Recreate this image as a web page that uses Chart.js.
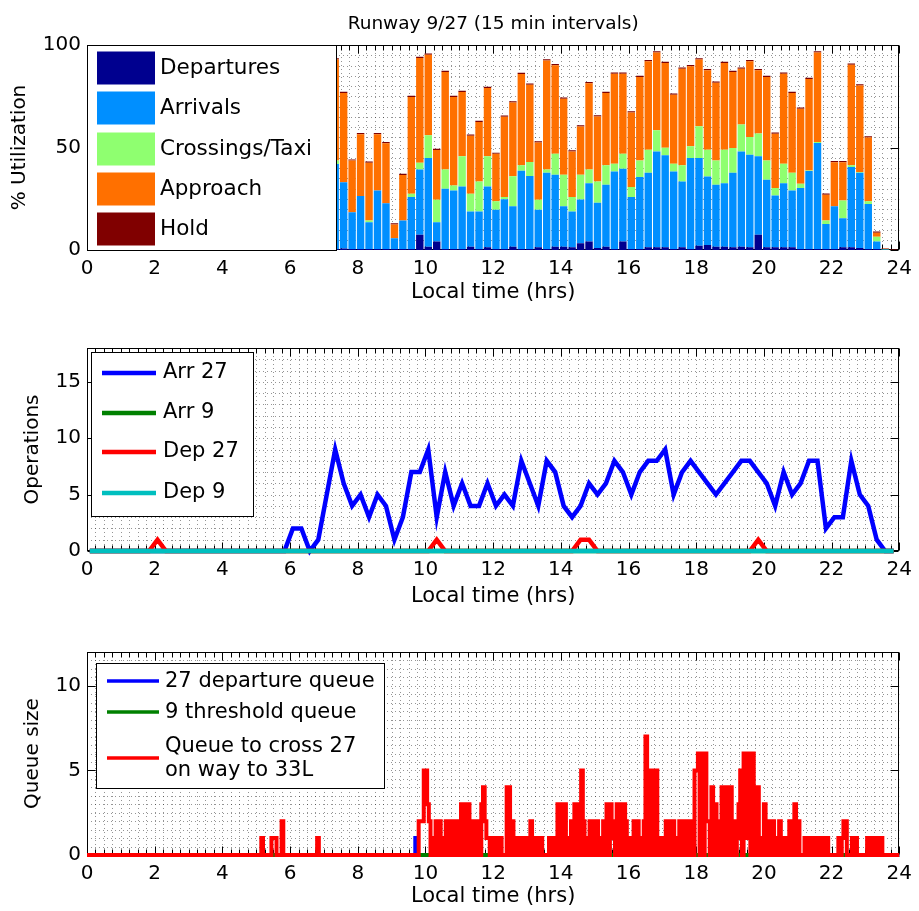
<!DOCTYPE html>
<html>
<head>
<meta charset="utf-8">
<script src="https://cdn.jsdelivr.net/npm/chart.js@4/dist/chart.umd.min.js"></script>
<style>
  html, body { margin: 0; padding: 0; background: #fff; }
  #wrap { position: relative; width: 919px; height: 911px; overflow: hidden; background: #fff; }
  canvas { position: absolute; left: 0; }
</style>
</head>
<body>
<div id="wrap">
  <canvas id="c1" width="919" height="305" style="top:0px"></canvas>
  <canvas id="c2" width="919" height="305" style="top:305px"></canvas>
  <canvas id="c3" width="919" height="301" style="top:610px"></canvas>
</div>
<script>
// ======================= DATA =======================
// 15-min slots; slot k is plotted at k*0.25 h + 5 min
const slotTime = k => k * 0.25 + 1 / 12;

// ---- Top panel: % utilization, slots 29 .. 95
const firstUtilSlot = 29;
const departures = [
  0.5, 0.7, 0.5, 0.5, 0.5, 0.5, 0.5, 0.5, 0.5, 0.5,
  7.5, 1.6, 4.1, 0.5, 0.5, 0.5, 1.6, 0.5, 1.3, 0.5,
  0.5, 1.6, 0.5, 0.5, 1.3, 0.5, 1.6, 1.6, 1.3, 3.3,
  4.1, 1.0, 1.6, 0.5, 4.1, 0.5, 0.5, 1.3, 1.3, 1.3,
  0.5, 1.3, 0.5, 2.1, 2.4, 1.6, 1.6, 1.3, 1.6, 1.3,
  7.5, 1.3, 1.3, 1.3, 1.3, 0.5, 0.5, 0.5, 0.5, 0.5,
  1.3, 1.3, 1.0, 0.5, 0.5, 0, 0
];
const arrivals = [
  41.5, 32.4, 17.9, 25.9, 13.0, 28.5, 22.3, 5.2, 13.9, 25.3,
  31.8, 43.3, 9.4, 29.4, 28.5, 30.5, 17.2, 18.3, 29.7, 19.1,
  24.3, 19.8, 38.2, 35.6, 18.3, 37.2, 35.1, 19.8, 17.5, 21.3,
  28.5, 22.0, 30.2, 37.8, 35.5, 25.3, 35.1, 36.4, 46.8, 44.9,
  37.8, 32.1, 44.4, 42.8, 33.5, 30.2, 31.0, 36.4, 46.5, 45.2,
  38.2, 33.0, 25.3, 31.3, 27.7, 29.7, 38.0, 51.7, 12.2, 20.9,
  14.2, 39.2, 36.7, 22.0, 3.7, 0.3, 0
];
const crossings = [
  1.7, 0, 0, 0, 0.9, 0, 0, 0, 0, 1.6,
  3.3, 11.1, 11.0, 9.4, 2.5, 14.7, 8.6, 14.6, 14.7, 4.2,
  1.0, 14.6, 2.6, 6.8, 4.9, 1.6, 10.3, 15.3, 7.0, 12.1,
  6.7, 10.4, 9.5, 3.8, 7.4, 4.9, 8.1, 11.2, 10.3, 3.7,
  3.8, 7.9, 5.7, 15.5, 13.0, 11.9, 16.3, 12.1, 13.1, 8.6,
  11.1, 9.4, 3.6, 9.5, 8.7, 2.1, 0.3, 0.5, 1.7, 0,
  8.6, 0.8, 0.3, 1.3, 2.3, 0.2, 0
];
const approach = [
  49.2, 43.5, 25.2, 30.1, 28.2, 27.5, 29.3, 6.7, 22.2, 47.2,
  51.1, 39.3, 24.3, 47.5, 43.1, 31.4, 28.3, 29.0, 33.3, 23.1,
  39.2, 36.0, 44.6, 37.7, 27.9, 53.2, 43.1, 37.1, 22.2, 23.5,
  42.1, 31.7, 35.3, 43.9, 39.0, 36.4, 40.7, 43.2, 38.0, 41.3,
  33.6, 47.1, 39.0, 32.5, 38.8, 37.9, 42.3, 37.0, 27.2, 37.0,
  30.9, 40.7, 26.5, 43.9, 38.9, 36.6, 44.6, 43.7, 12.6, 21.4,
  18.7, 49.1, 42.2, 31.1, 1.9, 0.1, 0
];
const hold = [
  0.6, 0.6, 0.6, 0.6, 0.6, 0.6, 0.6, 0.6, 0.6, 0.6,
  0.6, 0.6, 0.6, 0.6, 0.6, 0.6, 0.6, 0.6, 0.6, 0.6,
  0.6, 0.6, 0.6, 0.6, 0.6, 0.6, 0.6, 0.6, 0.6, 0.6,
  0.6, 0.6, 0.6, 0.6, 0.6, 0.6, 0.6, 0.6, 0.6, 0.6,
  0.6, 0.6, 0.6, 0.6, 0.6, 0.6, 0.6, 0.6, 0.6, 0.6,
  0.6, 0.6, 0.6, 0.6, 0.6, 0.6, 0.6, 0.6, 0.6, 0.6,
  0.6, 0.6, 0.6, 0.6, 0.6, 0.3, 0.3
];

// ---- Middle panel: operations per 15-min slot, slots 0 .. 95 (rows of 3 h)
const arr27 = [
  0, 0, 0, 0, 0, 0, 0, 0, 0, 0, 0, 0,
  0, 0, 0, 0, 0, 0, 0, 0, 0, 0, 0, 0,
  2, 2, 0, 1, 5, 9, 6, 4, 5, 3, 5, 4,
  1, 3, 7, 7, 9, 3, 7, 4, 6, 4, 4, 6,
  4, 5, 4, 8, 6, 4, 8, 7, 4, 3, 4, 6,
  5, 6, 8, 7, 5, 7, 8, 8, 9, 5, 7, 8,
  7, 6, 5, 6, 7, 8, 8, 7, 6, 4, 7, 5,
  6, 8, 8, 2, 3, 3, 8, 5, 4, 1, 0, 0
];
const arr9 = [
  0, 0, 0, 0, 0, 0, 0, 0, 0, 0, 0, 0,
  0, 0, 0, 0, 0, 0, 0, 0, 0, 0, 0, 0,
  0, 0, 0, 0, 0, 0, 0, 0, 0, 0, 0, 0,
  0, 0, 0, 0, 0, 0, 0, 0, 0, 0, 0, 0,
  0, 0, 0, 0, 0, 0, 0, 0, 0, 0, 0, 0,
  0, 0, 0, 0, 0, 0, 0, 0, 0, 0, 0, 0,
  0, 0, 0, 0, 0, 0, 0, 0, 0, 0, 0, 0,
  0, 0, 0, 0, 0, 0, 0, 0, 0, 0, 0, 0
];
const dep27 = [
  0, 0, 0, 0, 0, 0, 0, 0, 1, 0, 0, 0,
  0, 0, 0, 0, 0, 0, 0, 0, 0, 0, 0, 0,
  0, 0, 0, 0, 0, 0, 0, 0, 0, 0, 0, 0,
  0, 0, 0, 0, 0, 1, 0, 0, 0, 0, 0, 0,
  0, 0, 0, 0, 0, 0, 0, 0, 0, 0, 1, 1,
  0, 0, 0, 0, 0, 0, 0, 0, 0, 0, 0, 0,
  0, 0, 0, 0, 0, 0, 0, 1, 0, 0, 0, 0,
  0, 0, 0, 0, 0, 0, 0, 0, 0, 0, 0, 0
];
const dep9 = [
  0, 0, 0, 0, 0, 0, 0, 0, 0, 0, 0, 0,
  0, 0, 0, 0, 0, 0, 0, 0, 0, 0, 0, 0,
  0, 0, 0, 0, 0, 0, 0, 0, 0, 0, 0, 0,
  0, 0, 0, 0, 0, 0, 0, 0, 0, 0, 0, 0,
  0, 0, 0, 0, 0, 0, 0, 0, 0, 0, 0, 0,
  0, 0, 0, 0, 0, 0, 0, 0, 0, 0, 0, 0,
  0, 0, 0, 0, 0, 0, 0, 0, 0, 0, 0, 0,
  0, 0, 0, 0, 0, 0, 0, 0, 0, 0, 0, 0
];

// ---- Bottom panel: queue sizes
// 27 departure queue and 9 threshold queue as [hour, size] change events
const depQueue27 = [[0, 0], [9.70, 1], [9.75, 0], [24, 0]];
const thresholdQueue9 = [[0, 0], [24, 0]];
// crossing queue in 3-minute bins, one row per hour (0h .. 23h)
const crossBinHours = 0.05;
const crossQueue27 = [
  0,0,0,0,0,0,0,0,0,0,0,0,0,0,0,0,0,0,0,0,
  0,0,0,0,0,0,0,0,0,0,0,0,0,0,0,0,0,0,0,0,
  0,0,0,0,0,0,0,0,0,0,0,0,0,0,0,0,0,0,0,0,
  0,0,0,0,0,0,0,0,0,0,0,0,0,0,0,0,0,0,0,0,
  0,0,0,0,0,0,0,0,0,0,0,0,0,0,0,0,0,0,0,0,
  0,0,0,1,0,0,0,0,0,1,1,1,0,0,0,2,0,0,0,0,
  0,0,0,0,0,0,0,0,0,0,0,0,0,0,0,0,1,0,0,0,
  0,0,0,0,0,0,0,0,0,0,0,0,0,0,0,0,0,0,0,0,
  0,0,0,0,0,0,0,0,0,0,0,0,0,0,0,0,0,0,0,0,
  0,0,0,0,0,0,0,0,0,0,0,0,0,0,0,0,2,2,2,5,
  5,3,2,0,1,0,2,0,2,0,1,0,2,0,2,0,2,0,2,0,
  1,3,0,3,0,3,0,2,0,2,0,2,0,3,4,2,1,1,0,1,
  1,0,1,0,1,0,0,0,4,4,0,2,0,0,1,0,1,0,1,0,
  1,0,2,0,1,0,1,0,1,0,0,0,0,1,0,1,0,1,3,0,
  3,0,3,1,0,1,2,0,3,0,3,0,5,2,0,1,0,2,0,2,
  0,2,0,1,0,2,0,3,0,3,1,2,0,3,0,3,0,3,2,0,
  1,0,1,2,0,2,0,1,0,2,7,0,5,0,5,0,5,0,1,0,
  1,0,2,0,2,0,2,0,1,0,2,0,2,0,2,1,0,2,0,5,
  5,6,0,6,0,6,2,2,0,4,0,3,0,2,0,4,0,4,3,0,
  4,0,2,0,1,3,5,0,6,6,1,6,0,6,4,0,4,0,1,0,
  3,0,1,2,0,2,0,1,0,2,0,1,0,1,0,2,0,1,3,0,
  2,0,0,0,1,0,1,0,0,1,0,1,0,1,0,1,0,1,0,0,
  0,0,0,0,1,0,1,2,2,0,0,0,1,0,1,0,0,0,0,0,
  0,1,0,1,0,1,0,1,0,1,0,0,0,0,0,0,0,0,0,0
];

// ======================= STYLE / HELPERS =======================
const FONT = '"DejaVu Sans", sans-serif';
Chart.defaults.font.family = FONT;
Chart.defaults.font.size = 20;
Chart.defaults.color = '#000';

const ptsFromSlots = (vals, first) => vals.map((v, i) => ({ x: slotTime(first + i), y: v }));
const ptsFromEvents = ev => ev.map(([t, v]) => ({ x: t, y: v }));
const ptsFromBins = vals => {
  const p = vals.map((v, i) => ({ x: i * crossBinHours, y: v }));
  p.push({ x: vals.length * crossBinHours, y: vals[vals.length - 1] });
  return p;
};

// MATLAB-like axes: dotted minor grid, inward ticks and box, all beneath the data
const matlabAxes = {
  id: 'matlabAxes',
  beforeDatasetsDraw(chart, _a, o) {
    const { ctx, chartArea: a } = chart;
    const x = chart.scales.x, y = chart.scales.y;
    ctx.save();
    ctx.strokeStyle = o.gridColor;
    ctx.lineWidth = 1;
    ctx.setLineDash(o.gridDash);
    const nx = Math.round((x.max - x.min) / o.xMinor);
    for (let i = 1; i < nx; i++) {
      const px = Math.round(x.getPixelForValue(x.min + i * o.xMinor)) + 0.5;
      ctx.beginPath(); ctx.moveTo(px, a.top); ctx.lineTo(px, a.bottom); ctx.stroke();
    }
    const ny = Math.round((y.max - y.min) / o.yMinor);
    for (let i = 1; i < ny; i++) {
      const py = Math.round(y.getPixelForValue(y.min + i * o.yMinor)) + 0.5;
      ctx.beginPath(); ctx.moveTo(a.left, py); ctx.lineTo(a.right, py); ctx.stroke();
    }
    // ticks and box
    ctx.setLineDash([]);
    ctx.strokeStyle = '#000';
    const L = Math.round(a.left) + 0.5, R = Math.round(a.right) - 0.5;
    const T = Math.round(a.top) + 0.5, B = Math.round(a.bottom) - 0.5;
    for (let i = 0; i <= nx; i++) {
      const v = x.min + i * o.xMinor;
      const len = Math.abs(v / o.xMajor - Math.round(v / o.xMajor)) < 1e-6 ? o.majorLen : o.minorLen;
      const px = Math.round(x.getPixelForValue(v)) + 0.5;
      ctx.beginPath();
      ctx.moveTo(px, B); ctx.lineTo(px, B - len);
      ctx.moveTo(px, T); ctx.lineTo(px, T + len);
      ctx.stroke();
    }
    y.ticks.forEach(t => {
      const py = Math.round(y.getPixelForValue(t.value)) + 0.5;
      ctx.beginPath();
      ctx.moveTo(L, py); ctx.lineTo(L + o.majorLen, py);
      ctx.moveTo(R, py); ctx.lineTo(R - o.majorLen, py);
      ctx.stroke();
    });
    ctx.strokeRect(L, T, R - L, B - T);
    ctx.restore();
  },
  afterDraw(chart, _a, o) {
    const g = o.legend;
    if (!g) return;
    const ctx = chart.ctx;
    ctx.save();
    ctx.fillStyle = '#fff';
    ctx.fillRect(g.x, g.y, g.w, g.h);
    ctx.strokeStyle = '#000';
    ctx.lineWidth = 1;
    ctx.setLineDash([]);
    ctx.strokeRect(g.x + 0.5, g.y + 0.5, g.w, g.h);
    ctx.font = g.fontSize + 'px ' + FONT;
    ctx.textBaseline = 'middle';
    ctx.textAlign = 'left';
    chart.data.datasets.forEach((ds, i) => {
      const yc = g.rows[i];
      if (g.kind === 'patch') {
        ctx.fillStyle = ds.backgroundColor;
        ctx.fillRect(g.sx0, yc - g.ph / 2, g.sx1 - g.sx0, g.ph);
      } else {
        ctx.strokeStyle = ds.borderColor;
        ctx.lineWidth = g.lw;
        ctx.beginPath(); ctx.moveTo(g.sx0, yc); ctx.lineTo(g.sx1, yc); ctx.stroke();
      }
      ctx.fillStyle = '#000';
      const lines = ds.label.split('\n');
      lines.forEach((ln, j) => {
        ctx.fillText(ln, g.tx, yc + (j - (lines.length - 1) / 2) * g.lineGap + g.textDy);
      });
    });
    ctx.restore();
  }
};

function xScale(h, titlePadBottom) {
  return {
    type: 'linear', min: 0, max: 24, offset: false,
    grid: { display: false, drawTicks: false }, border: { display: false },
    ticks: { stepSize: 2, autoSkip: false, maxRotation: 0, padding: 7, color: '#000', font: { size: 20 } },
    title: { display: true, text: 'Local time (hrs)', color: '#000', font: { size: 21 }, padding: { top: 0, bottom: titlePadBottom } },
    afterFit: s => { s.height = h; }
  };
}
function yScale(max, step, title, titlePad) {
  return {
    min: 0, max: max,
    grid: { display: false, drawTicks: false }, border: { display: false },
    ticks: { stepSize: step, includeBounds: false, padding: 6, color: '#000', font: { size: 20 } },
    title: { display: true, text: title, color: '#000', font: { size: 20 }, padding: { top: titlePad, bottom: 0 } },
    afterFit: s => { s.width = 87; }
  };
}
const common = { responsive: false, animation: false, devicePixelRatio: 1 };
const gridStyle = { gridColor: 'rgba(0,0,0,0.42)', gridDash: [1, 3], xMinor: 0.25, xMajor: 2, majorLen: 8, minorLen: 5 };

// ======================= TOP: utilization bars =======================
new Chart(document.getElementById('c1'), {
  type: 'bar',
  data: {
    datasets: [
      { label: 'Departures', data: ptsFromSlots(departures, firstUtilSlot), backgroundColor: 'rgb(0,0,143)' },
      { label: 'Arrivals', data: ptsFromSlots(arrivals, firstUtilSlot), backgroundColor: 'rgb(0,143,255)' },
      { label: 'Crossings/Taxi', data: ptsFromSlots(crossings, firstUtilSlot), backgroundColor: 'rgb(143,255,112)' },
      { label: 'Approach', data: ptsFromSlots(approach, firstUtilSlot), backgroundColor: 'rgb(255,112,0)' },
      { label: 'Hold', data: ptsFromSlots(hold, firstUtilSlot), backgroundColor: 'rgb(128,0,0)' }
    ]
  },
  options: Object.assign({}, common, {
    datasets: { bar: { categoryPercentage: 1, barPercentage: 0.88, borderWidth: 0 } },
    layout: { padding: { left: 0, right: 15, top: 0, bottom: 0 } },
    plugins: {
      legend: { display: false }, tooltip: { enabled: false },
      title: { display: true, fullSize: false, text: 'Runway 9/27 (15 min intervals)', color: '#000',
               font: { size: 18.5, weight: 'normal' }, padding: { top: 13, bottom: 9.8 } },
      matlabAxes: Object.assign({}, gridStyle, {
        yMinor: 5,
        legend: { x: 87, y: 45, w: 249, h: 205, kind: 'patch', rows: [68, 108, 149, 189, 229],
                  sx0: 97, sx1: 155, ph: 33, tx: 160, fontSize: 21.5, lineGap: 24, textDy: 0 }
      })
    },
    scales: {
      x: Object.assign(xScale(55, 0), { stacked: true }),
      y: Object.assign(yScale(100, 50, '% Utilization', 8), { stacked: true })
    }
  }),
  plugins: [matlabAxes]
});

// ======================= MIDDLE: operations =======================
const lineDs = (label, vals, color, order, w) => ({
  label, data: ptsFromSlots(vals, 0), borderColor: color, backgroundColor: color,
  borderWidth: w, pointRadius: 0, tension: 0, fill: false, order, clip: 6
});
new Chart(document.getElementById('c2'), {
  type: 'line',
  data: {
    datasets: [
      lineDs('Arr 27', arr27, 'rgb(0,0,255)', 4, 4.5),
      lineDs('Arr 9', arr9, 'rgb(0,128,0)', 3, 4.5),
      lineDs('Dep 27', dep27, 'rgb(255,0,0)', 2, 4.5),
      lineDs('Dep 9', dep9, 'rgb(0,191,191)', 1, 4.5)
    ]
  },
  options: Object.assign({}, common, {
    layout: { padding: { left: 0, right: 15, top: 43, bottom: 0 } },
    plugins: {
      legend: { display: false }, tooltip: { enabled: false },
      matlabAxes: Object.assign({}, gridStyle, {
        yMinor: 1,
        legend: { x: 91, y: 47, w: 162, h: 164, kind: 'line', rows: [68, 108, 147, 188],
                  sx0: 102, sx1: 156, lw: 4.5, tx: 163, fontSize: 21, lineGap: 24, textDy: 0 }
      })
    },
    scales: { x: xScale(59, 1), y: yScale(18, 5, 'Operations', 21) }
  }),
  plugins: [matlabAxes]
});

// ======================= BOTTOM: queues =======================
new Chart(document.getElementById('c3'), {
  type: 'line',
  data: {
    datasets: [
      { label: '27 departure queue', data: ptsFromEvents(depQueue27), borderColor: 'rgb(0,0,255)',
        borderWidth: 4, pointRadius: 0, stepped: 'before', order: 3, clip: 6 },
      { label: '9 threshold queue', data: ptsFromEvents(thresholdQueue9), borderColor: 'rgb(0,128,0)',
        borderWidth: 4, pointRadius: 0, stepped: 'before', order: 2, clip: 6 },
      { label: 'Queue to cross 27\non way to 33L', data: ptsFromBins(crossQueue27), borderColor: 'rgb(255,0,0)',
        borderWidth: 4, pointRadius: 0, stepped: 'before', order: 1, clip: 6 }
    ]
  },
  options: Object.assign({}, common, {
    layout: { padding: { left: 0, right: 15, top: 42, bottom: 0 } },
    plugins: {
      legend: { display: false }, tooltip: { enabled: false },
      matlabAxes: Object.assign({}, gridStyle, {
        yMinor: 0.5,
        legend: { x: 96, y: 53, w: 288, h: 125, kind: 'line', rows: [71, 102, 148],
                  sx0: 107, sx1: 159, lw: 3.5, tx: 165, fontSize: 21, lineGap: 24, textDy: 1 }
      })
    },
    scales: { x: xScale(56, 2), y: yScale(12, 5, 'Queue size', 21) }
  }),
  plugins: [matlabAxes]
});
</script>
</body>
</html>
